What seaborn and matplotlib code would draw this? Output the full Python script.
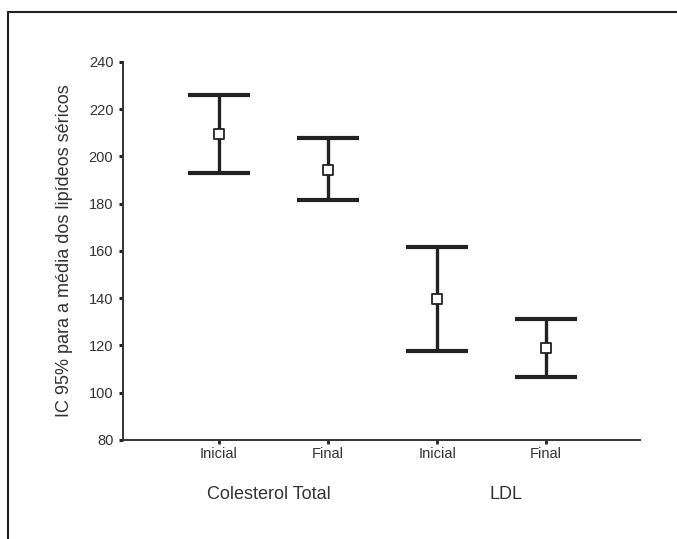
import numpy as np
import pandas as pd
import matplotlib.pyplot as plt
from matplotlib.lines import Line2D
import seaborn as sns

# dados (IC 95% da média)
grupos = ['Colesterol Total', 'Colesterol Total', 'LDL', 'LDL']
momentos = ['Inicial', 'Final', 'Inicial', 'Final']
media = [209.5, 194.3, 139.5, 119.0]
ic_inf = [193.0, 181.6, 117.7, 106.7]
ic_sup = [226.2, 207.8, 161.7, 131.2]

df = pd.DataFrame({'grupo': grupos, 'momento': momentos,
                   'media': media, 'ic_inf': ic_inf, 'ic_sup': ic_sup})
df['pos'] = np.arange(len(df))

sns.set_style('ticks')
plt.rcParams['font.family'] = ['Liberation Sans', 'DejaVu Sans']

cor = '#222222'
cor_txt = '#333333'

fig = plt.figure(figsize=(6.77, 5.39), dpi=100)
ax = fig.add_axes([0.1817, 0.1837, 0.7636, 0.7013])

# barras de erro (IC 95%)
ax.errorbar(df['pos'], df['media'],
            yerr=[df['media'] - df['ic_inf'], df['ic_sup'] - df['media']],
            fmt='none', ecolor=cor, elinewidth=2.4, capsize=22.5, capthick=3.0,
            zorder=2)

# médias como quadrados vazados
sns.scatterplot(data=df, x='pos', y='media', marker='s', s=60,
                facecolor='white', edgecolor=cor, linewidth=1.3, ax=ax, zorder=3)

ax.set_xlim(-0.88, 3.86)
ax.set_ylim(80, 240)
ax.set_yticks(np.arange(80, 241, 20))
ax.set_xticks(df['pos'])
ax.set_xticklabels(df['momento'])
ax.set_xlabel('')
ax.set_ylabel('IC 95% para a média dos lipídeos séricos', fontsize=13,
              color=cor_txt, labelpad=11)

for s in ['top', 'right']:
    ax.spines[s].set_visible(False)
for s in ['left', 'bottom']:
    ax.spines[s].set_linewidth(1.4)
    ax.spines[s].set_color(cor_txt)

ax.tick_params(axis='y', length=3, width=2.2, color=cor, labelsize=10.5,
               labelcolor=cor_txt, pad=4)
ax.tick_params(axis='x', length=3, width=2.0, color=cor, labelsize=10.5,
               labelcolor=cor_txt, pad=2)

# rótulos dos grupos (levemente deslocados como no original)
desloc = {'Colesterol Total': -0.04, 'LDL': 0.13}
for g in df['grupo'].unique():
    centro = df.loc[df['grupo'] == g, 'pos'].mean() + desloc[g]
    ax.text(centro, -0.145, g, transform=ax.get_xaxis_transform(),
            ha='center', va='center', fontsize=13, color=cor_txt)

# moldura da figura
fig.add_artist(Line2D([8 / 677, 8 / 677], [0, 1 - 12 / 539],
                      transform=fig.transFigure, color=cor, lw=1.5))
fig.add_artist(Line2D([8 / 677, 1], [1 - 12 / 539, 1 - 12 / 539],
                      transform=fig.transFigure, color=cor, lw=1.5))

fig.savefig('out.png', dpi=100)
plt.close(fig)
